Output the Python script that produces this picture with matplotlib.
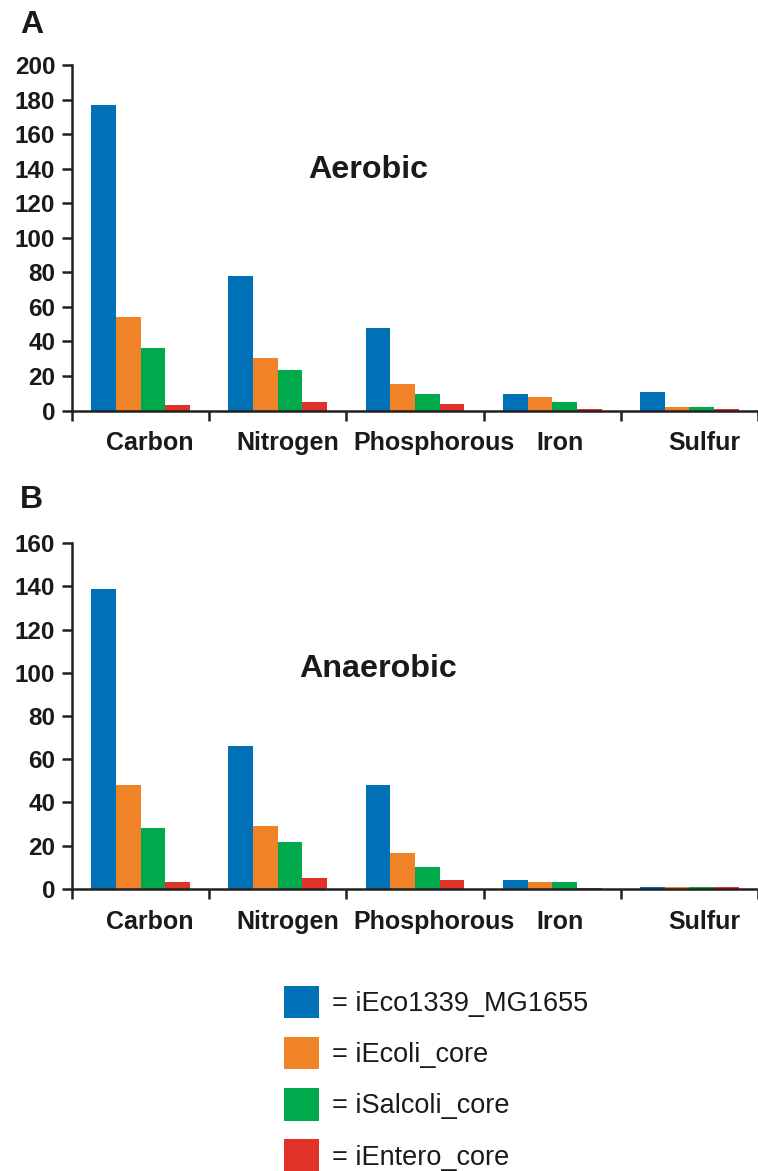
import matplotlib
matplotlib.use("Agg")
import matplotlib.pyplot as plt
import numpy as np

plt.rcParams['font.family'] = ['Liberation Sans', 'DejaVu Sans']

categories = ["Carbon", "Nitrogen", "Phosphorous", "Iron", "Sulfur"]
models = ["iEco1339_MG1655", "iEcoli_core", "iSalcoli_core", "iEntero_core"]
colors = ["#0071B6", "#F08228", "#00A94B", "#E03226"]

aerobic = {
    "iEco1339_MG1655": [177, 78, 48, 9.6, 10.7],
    "iEcoli_core":     [54, 30.4, 15.4, 7.8, 2],
    "iSalcoli_core":   [36, 23.5, 9.6, 4.9, 2],
    "iEntero_core":    [3.2, 4.9, 3.8, 0.9, 0.8],
}
anaerobic = {
    "iEco1339_MG1655": [139, 66, 48, 4, 0.6],
    "iEcoli_core":     [48, 29, 16.5, 3, 0.6],
    "iSalcoli_core":   [28, 21.6, 10, 3, 0.6],
    "iEntero_core":    [3.1, 5, 4, 0.5, 0.6],
}
ticks_a = [0, 20, 40, 60, 80, 100, 120, 140, 160, 180, 200]
ticks_b = [0, 20, 40, 60, 80, 100, 120, 140, 160]

W, H = 758, 1171
fig = plt.figure(figsize=(W / 100, H / 100), dpi=100)

spine_col = "#231F20"
bw = 0.18
offsets = np.array([-1.5, -0.5, 0.5, 1.5]) * bw
x = np.arange(len(categories))
label_shift = [0.065, 0.07, 0.135, 0.055, 0.11]


def panel(rect, data, yticks, title, title_xy):
    ax = fig.add_axes(rect)
    for i, m in enumerate(models):
        ax.bar(x + offsets[i], data[m], width=bw, color=colors[i], linewidth=0)
    ax.set_xlim(-0.5, -0.5 + (W - 72) / 139)
    ax.set_ylim(yticks[0], yticks[-1])
    ax.set_yticks(yticks)
    ax.set_yticklabels([str(t) for t in yticks], fontsize=17.5, fontweight='bold', color="#1a1a1a")
    ax.set_xticks(np.arange(len(categories) + 1) - 0.5)
    ax.set_xticklabels([])
    ax.set_xticks(x + np.array(label_shift), minor=True)
    ax.set_xticklabels(categories, minor=True, fontsize=18, fontweight='bold', color="#1a1a1a")
    ax.tick_params(axis='x', which='minor', length=0, pad=15)
    ax.tick_params(axis='x', which='major', direction='out', length=7, width=1.8, color=spine_col)
    ax.tick_params(axis='y', direction='out', length=7, width=1.8, color=spine_col, pad=5)
    for s in ['top', 'right']:
        ax.spines[s].set_visible(False)
    for s in ['left', 'bottom']:
        ax.spines[s].set_linewidth(1.8)
        ax.spines[s].set_color(spine_col)
    ax.spines['bottom'].set_zorder(5)
    fig.text(title_xy[0], title_xy[1], title, fontsize=23.2, fontweight='bold',
             ha='center', va='center', color="#1a1a1a")
    return ax


axA = panel([72 / W, 1 - 410.5 / H, (W - 72) / W, 345.2 / H], aerobic, ticks_a,
            "Aerobic", (368 / W, 1 - 170 / H))
axB = panel([72 / W, 1 - 888.7 / H, (W - 72) / W, 345.4 / H], anaerobic, ticks_b,
            "Anaerobic", (378 / W, 1 - 669 / H))

fig.text(20 / W, 1 - 25 / H, "A", fontsize=23, fontweight='bold', va='center', ha='left', color="#1a1a1a")
fig.text(20 / W, 1 - 500 / H, "B", fontsize=23, fontweight='bold', va='center', ha='left', color="#1a1a1a")

handles = [plt.Rectangle((0, 0), 1, 1, facecolor=c, edgecolor='none') for c in colors]
labels = ["= " + m for m in models]
leg = fig.legend(handles, labels, loc='upper left', bbox_to_anchor=(276 / W, 1 - 978 / H),
                 frameon=False, fontsize=19.5, handlelength=1.3, handleheight=1.45,
                 handletextpad=0.45, labelspacing=0.7, borderaxespad=0, borderpad=0.3)
for t in leg.get_texts():
    t.set_color("#1a1a1a")

fig.savefig("out.png", dpi=100)
